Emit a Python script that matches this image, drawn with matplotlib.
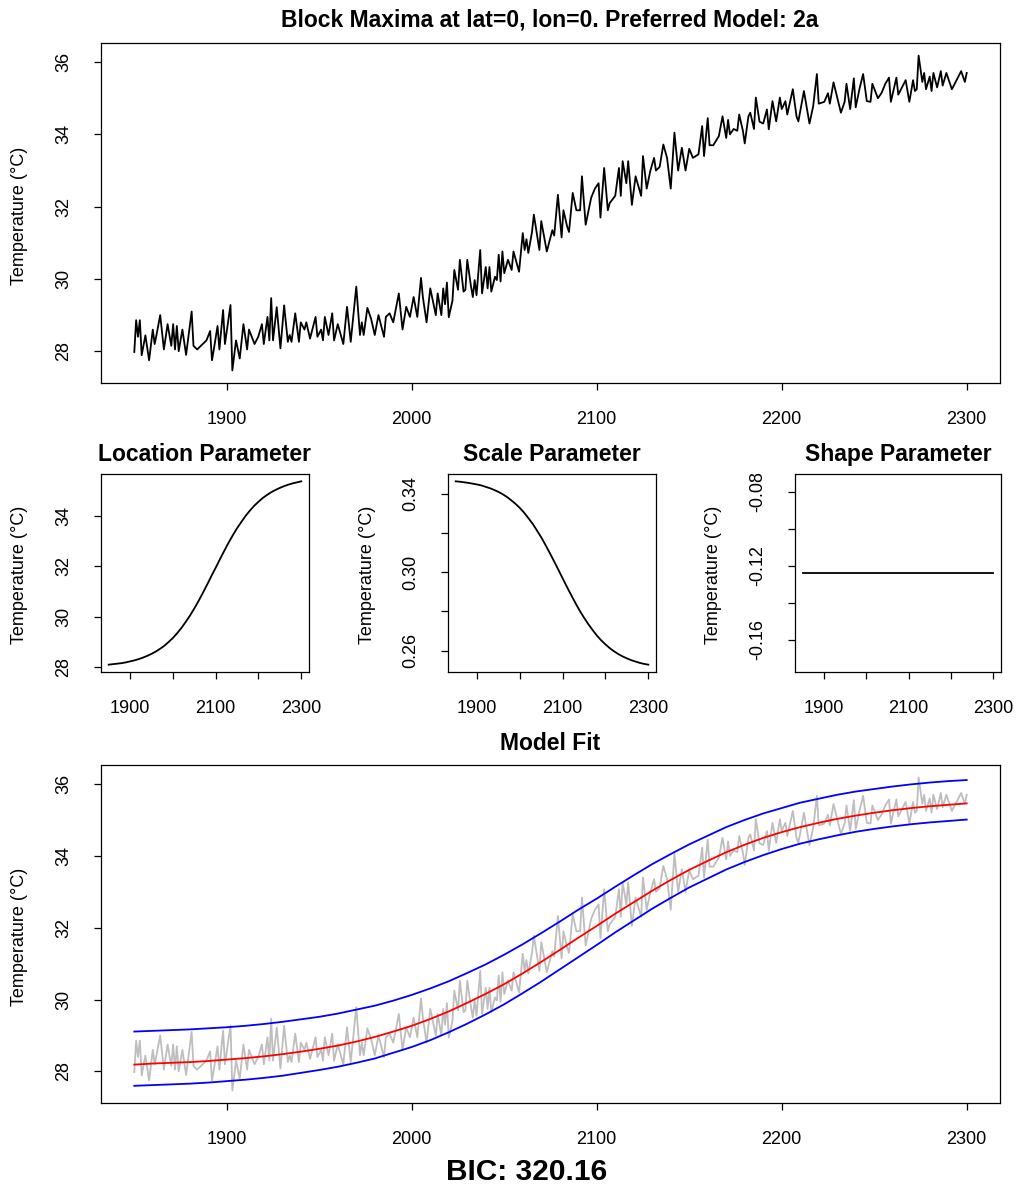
import numpy as np
import matplotlib.pyplot as plt

plt.rcParams['font.family'] = ['Liberation Sans', 'DejaVu Sans']

# Data ---------------------------------------------------------------------------
# block maxima series (turning points)
obs_year = [1850, 1851, 1852, 1853, 1854, 1856, 1858, 1860, 1861, 1862, 1864, 1866, 1868, 1870, 1871,
            1872, 1873, 1874, 1876, 1878, 1881, 1882, 1884, 1887, 1889, 1891, 1892, 1893, 1895, 1896,
            1898, 1899, 1902, 1903, 1905, 1907, 1909, 1911, 1912, 1915, 1917, 1919, 1920, 1922, 1923,
            1924, 1925, 1927, 1929, 1931, 1933, 1934, 1935, 1937, 1939, 1940, 1942, 1943, 1945, 1946,
            1948, 1949, 1951, 1952, 1953, 1955, 1957, 1958, 1960, 1963, 1965, 1967, 1970, 1972, 1973,
            1974, 1976, 1978, 1980, 1982, 1985, 1986, 1988, 1990, 1993, 1995, 1997, 1999, 2001, 2003,
            2005, 2006, 2008, 2010, 2013, 2014, 2016, 2017, 2018, 2019, 2020, 2022, 2023, 2025, 2026,
            2028, 2029, 2030, 2032, 2033, 2034, 2035, 2037, 2038, 2040, 2041, 2042, 2043, 2045, 2046,
            2047, 2048, 2049, 2050, 2052, 2054, 2055, 2058, 2060, 2061, 2062, 2063, 2065, 2066, 2069,
            2070, 2073, 2076, 2077, 2079, 2081, 2082, 2084, 2085, 2087, 2089, 2091, 2092, 2094, 2097,
            2099, 2101, 2102, 2104, 2106, 2107, 2110, 2112, 2113, 2114, 2116, 2117, 2119, 2121, 2124,
            2125, 2127, 2129, 2131, 2132, 2134, 2136, 2138, 2140, 2142, 2144, 2146, 2148, 2150, 2152,
            2155, 2157, 2158, 2160, 2161, 2163, 2166, 2168, 2170, 2171, 2172, 2174, 2176, 2177, 2179,
            2180, 2182, 2183, 2185, 2186, 2188, 2190, 2192, 2193, 2195, 2197, 2199, 2200, 2202, 2203,
            2206, 2208, 2209, 2212, 2215, 2217, 2219, 2220, 2223, 2225, 2226, 2228, 2232, 2234, 2235,
            2237, 2239, 2240, 2242, 2244, 2246, 2248, 2249, 2252, 2254, 2256, 2258, 2259, 2262, 2263,
            2265, 2267, 2269, 2271, 2272, 2273, 2274, 2276, 2277, 2278, 2280, 2281, 2282, 2284, 2286,
            2287, 2289, 2292, 2297, 2299, 2300]
obs_temp = [27.98, 28.86, 28.40, 28.86, 27.89, 28.44, 27.75, 28.60, 28.20, 28.45, 29.00, 28.05, 28.75, 28.15, 28.75,
            28.05, 28.70, 28.00, 28.60, 27.90, 29.10, 28.15, 28.05, 28.20, 28.30, 28.56, 27.75, 28.05, 28.70, 28.05,
            29.14, 28.20, 29.28, 27.47, 28.30, 27.80, 28.75, 28.05, 28.60, 28.20, 28.40, 28.75, 28.20, 28.95, 28.30,
            29.47, 28.30, 29.22, 28.08, 29.27, 28.26, 28.45, 28.26, 29.05, 28.26, 28.80, 28.60, 28.80, 28.35, 28.55,
            28.95, 28.40, 28.60, 28.30, 28.95, 28.45, 29.05, 28.30, 28.75, 28.20, 29.23, 28.26, 29.79, 28.45, 28.80,
            28.45, 29.20, 28.90, 28.45, 29.00, 28.40, 28.95, 29.05, 28.80, 29.60, 28.60, 29.23, 28.95, 29.50, 28.95,
            30.03, 29.50, 28.80, 29.74, 29.00, 29.60, 29.00, 29.74, 29.30, 29.90, 28.94, 29.40, 30.25, 29.70, 30.53,
            29.65, 29.70, 30.53, 29.80, 29.50, 29.97, 29.55, 30.80, 29.60, 30.33, 29.74, 30.33, 29.65, 30.06, 29.97,
            30.67, 29.93, 30.76, 30.16, 30.53, 30.25, 30.76, 30.20, 31.27, 30.80, 31.10, 30.72, 31.30, 31.78, 30.80,
            31.60, 30.76, 31.35, 31.20, 32.33, 31.15, 31.90, 31.45, 31.30, 32.38, 31.90, 31.90, 32.84, 31.50, 32.25,
            32.50, 32.65, 31.70, 33.07, 31.90, 32.10, 32.30, 33.07, 32.30, 33.26, 32.65, 33.26, 32.05, 32.84, 32.30,
            33.40, 32.50, 33.00, 33.35, 33.00, 33.10, 33.72, 33.35, 32.50, 34.05, 33.00, 33.63, 33.00, 33.60, 33.35,
            33.45, 34.23, 33.40, 34.45, 33.70, 33.70, 33.95, 34.50, 33.90, 34.40, 34.00, 34.15, 34.10, 34.55, 34.10,
            33.75, 34.50, 34.60, 34.15, 35.02, 34.35, 34.30, 34.69, 34.14, 34.92, 34.36, 35.02, 34.70, 34.92, 34.55,
            35.25, 34.50, 34.36, 35.20, 34.30, 34.78, 35.67, 34.85, 34.90, 35.14, 34.85, 35.44, 34.60, 34.90, 35.40,
            34.70, 35.55, 34.75, 35.25, 35.67, 34.92, 34.90, 35.40, 35.00, 35.15, 35.40, 35.57, 34.90, 35.57, 35.10,
            35.30, 35.50, 34.90, 35.50, 35.20, 35.25, 36.18, 35.45, 35.70, 35.25, 35.60, 35.20, 35.70, 35.30, 35.75,
            35.35, 35.70, 35.25, 35.75, 35.45, 35.70]

# fitted curves, read every 10 years
fit_year = list(range(1850, 2301, 10))
location = [28.09, 28.11, 28.13, 28.15, 28.18, 28.22, 28.26, 28.31, 28.37, 28.44,
            28.52, 28.61, 28.72, 28.84, 28.99, 29.15, 29.34, 29.55, 29.79, 30.04,
            30.32, 30.62, 30.94, 31.27, 31.61, 31.94, 32.28, 32.61, 32.93, 33.23,
            33.51, 33.76, 34.00, 34.21, 34.40, 34.56, 34.71, 34.83, 34.94, 35.03,
            35.11, 35.18, 35.24, 35.29, 35.33, 35.37]
scale = [0.3463, 0.3461, 0.3458, 0.3455, 0.3451, 0.3447, 0.3442, 0.3435, 0.3428, 0.3419,
         0.3409, 0.3397, 0.3383, 0.3366, 0.3348, 0.3327, 0.3303, 0.3275, 0.3246, 0.3212,
         0.3177, 0.3138, 0.3097, 0.3055, 0.3012, 0.2968, 0.2925, 0.2883, 0.2842, 0.2803,
         0.2768, 0.2735, 0.2705, 0.2677, 0.2653, 0.2632, 0.2613, 0.2597, 0.2583, 0.2571,
         0.2561, 0.2552, 0.2545, 0.2538, 0.2533, 0.2529]
shape = [-0.124] * len(fit_year)

# model fit: median (red) and 95% band (blue)
fit_mid = [28.19, 28.22, 28.24, 28.26, 28.29, 28.33, 28.37, 28.42, 28.48, 28.55,
           28.63, 28.72, 28.83, 28.96, 29.11, 29.27, 29.46, 29.67, 29.91, 30.16,
           30.43, 30.73, 31.05, 31.38, 31.72, 32.05, 32.39, 32.71, 33.03, 33.33,
           33.61, 33.86, 34.10, 34.31, 34.50, 34.66, 34.80, 34.92, 35.03, 35.12,
           35.20, 35.27, 35.33, 35.38, 35.42, 35.46]
fit_hi = [29.11, 29.13, 29.15, 29.17, 29.20, 29.23, 29.27, 29.32, 29.38, 29.45,
          29.52, 29.61, 29.72, 29.83, 29.97, 30.13, 30.31, 30.51, 30.74, 30.98,
          31.25, 31.54, 31.85, 32.17, 32.50, 32.81, 33.14, 33.46, 33.77, 34.05,
          34.32, 34.56, 34.80, 35.00, 35.18, 35.33, 35.48, 35.59, 35.70, 35.79,
          35.86, 35.93, 35.99, 36.04, 36.08, 36.11]
fit_lo = [27.60, 27.62, 27.64, 27.66, 27.69, 27.73, 27.77, 27.82, 27.88, 27.96,
          28.04, 28.13, 28.24, 28.36, 28.52, 28.68, 28.87, 29.09, 29.33, 29.59,
          29.87, 30.18, 30.50, 30.84, 31.18, 31.52, 31.87, 32.20, 32.53, 32.83,
          33.12, 33.37, 33.62, 33.83, 34.02, 34.19, 34.34, 34.46, 34.57, 34.67,
          34.75, 34.82, 34.88, 34.93, 34.97, 35.01]

title_main = "Block Maxima at lat=0, lon=0. Preferred Model: 2a"
bic_text = "BIC: 320.16"
ylab = "Temperature (\u00b0C)"


# Layout helpers ------------------------------------------------------------------
W, H = 1018, 1189
fig = plt.figure(figsize=(W / 100, H / 100), dpi=100)


def px_axes(l, t, r, b):
    return fig.add_axes([l / W, 1 - b / H, (r - l) / W, (b - t) / H])


def px_text(x, y, s, **kw):
    fig.text(x / W, 1 - y / H, s, ha='center', va='center', **kw)


def r_style(ax, xticks, xlabels, yticks, ylabels):
    for sp in ax.spines.values():
        sp.set_linewidth(0.9)
    ax.set_xticks(xticks)
    ax.set_xticklabels(xlabels)
    ax.set_yticks(yticks)
    ax.set_yticklabels(ylabels, rotation=90, va='center')
    ax.tick_params(direction='out', length=5, width=0.9, labelsize=13)
    ax.tick_params(axis='x', pad=15.5)
    ax.tick_params(axis='y', pad=15.5)


def r_xlim(ax, lo, hi):
    d = (hi - lo) * 0.04
    ax.set_xlim(lo - d, hi + d)


def r_ylim(ax, lo, hi):
    d = (hi - lo) * 0.04
    ax.set_ylim(lo - d, hi + d)


years_ticks = [1900, 2000, 2100, 2200, 2300]
temp_ticks = [28, 30, 32, 34, 36]

# Top panel: block maxima ------------------------------------------------------------
ax1 = px_axes(101, 43, 1000, 383)
ax1.plot(obs_year, obs_temp, color='black', lw=1.3)
r_xlim(ax1, 1850, 2300)
r_ylim(ax1, min(obs_temp), max(obs_temp))
r_style(ax1, years_ticks, [str(y) for y in years_ticks], temp_ticks, [str(t) for t in temp_ticks])
px_text(550, 20, title_main, fontsize=16.5, fontweight='bold')
px_text(20, 216, ylab, fontsize=13, rotation=90)

# Middle panels: parameters --------------------------------------------------------
mid_xlabels = ['1900', '', '2100', '', '2300']
panels = [
    (101, 309, location, "Location Parameter", [28, 30, 32, 34], ['28', '30', '32', '34'], None),
    (448, 656, scale, "Scale Parameter", [0.26, 0.28, 0.30, 0.32, 0.34],
     ['0.26', '', '0.30', '', '0.34'], None),
    (795, 1001, shape, "Shape Parameter", [-0.16, -0.14, -0.12, -0.10, -0.08],
     ['-0.16', '', '-0.12', '', '-0.08'], (-0.1736, -0.0744)),
]
for left, right, vals, name, yt, yl, ylim in panels:
    ax = px_axes(left, 474, right, 672)
    ax.plot(fit_year, vals, color='black', lw=1.3)
    r_xlim(ax, 1850, 2300)
    if ylim is None:
        r_ylim(ax, min(vals), max(vals))
    else:
        r_ylim(ax, *ylim)
    r_style(ax, years_ticks, mid_xlabels, yt, yl)
    px_text((left + right) / 2, 454, name, fontsize=16.5, fontweight='bold')
    px_text(left - 81, 575, ylab, fontsize=13, rotation=90)

# Bottom panel: model fit ----------------------------------------------------------
ax3 = px_axes(101, 765, 1000, 1103)
ax3.plot(obs_year, obs_temp, color='#bebebe', lw=1.3)
ax3.plot(fit_year, fit_mid, color='red', lw=1.3)
ax3.plot(fit_year, fit_hi, color='blue', lw=1.3)
ax3.plot(fit_year, fit_lo, color='blue', lw=1.3)
r_xlim(ax3, 1850, 2300)
r_ylim(ax3, min(obs_temp + fit_lo), max(obs_temp + fit_hi))
r_style(ax3, years_ticks, [str(y) for y in years_ticks], temp_ticks, [str(t) for t in temp_ticks])
px_text(550, 743, "Model Fit", fontsize=16.5, fontweight='bold')
px_text(20, 937, ylab, fontsize=13, rotation=90)
px_text(527, 1172, bic_text, fontsize=21.5, fontweight='bold')

fig.savefig("out.png", dpi=100)
